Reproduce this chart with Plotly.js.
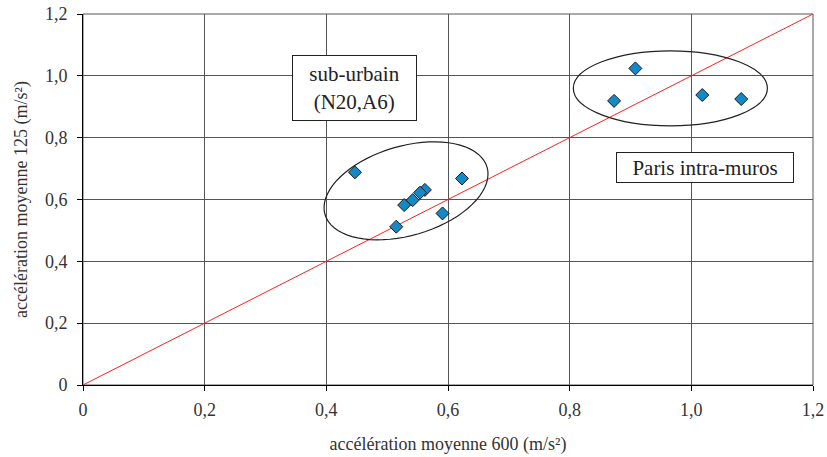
<!DOCTYPE html>
<html>
<head>
<meta charset="utf-8">
<script src="https://cdn.plot.ly/plotly-3.0.1.min.js"></script>
<style>html,body{margin:0;padding:0;background:#fff;}#chart{width:827px;height:457px;}</style>
</head>
<body>
<div id="chart"></div>
<script>
// accélération moyenne 600 (x) and 125 (y), m/s²
var groupNames = ["sub-urbain", "sub-urbain", "sub-urbain", "sub-urbain", "sub-urbain", "sub-urbain", "sub-urbain", "sub-urbain",
                  "Paris", "Paris", "Paris", "Paris"];
var acc600 = [0.447, 0.623, 0.562, 0.554, 0.542, 0.528, 0.591, 0.515, 0.908, 0.873, 1.018, 1.082];
var acc125 = [0.688, 0.668, 0.631, 0.622, 0.598, 0.582, 0.555, 0.512, 1.024, 0.919, 0.938, 0.925];
var diagX = [0, 1.2];
var diagY = [0, 1.2];
var tickVals = [0, 0.2, 0.4, 0.6, 0.8, 1.0, 1.2];
var tickText = ["0", "0,2", "0,4", "0,6", "0,8", "1,0", "1,2"];
var xTitle = "accélération moyenne 600 (m/s²)";
var yTitle = "accélération moyenne 125 (m/s²)";
var labelSub = "sub-urbain<br>(N20,A6)";
var labelParis = "Paris intra-muros";

var FONT = "Liberation Serif, Times New Roman, serif";
var pxX = 730 / 1.2, pxY = 371 / 1.2;

// rotated ellipse (sub-urbain group) built as a path
function ellipsePath(cx, cy, aPx, bPx, angDeg) {
  var ang = angDeg * Math.PI / 180, pts = [];
  for (var i = 0; i <= 72; i++) {
    var t = i / 72 * 2 * Math.PI;
    var dx = aPx * Math.cos(t) * Math.cos(ang) - bPx * Math.sin(t) * Math.sin(ang);
    var dy = aPx * Math.cos(t) * Math.sin(ang) + bPx * Math.sin(t) * Math.cos(ang);
    pts.push((i ? "L" : "M") + (cx + dx / pxX).toFixed(4) + "," + (cy + dy / pxY).toFixed(4));
  }
  return pts.join(" ") + " Z";
}

var traces = [
  {x: diagX, y: diagY, mode: "lines", type: "scatter", line: {color: "#ff2020", width: 1}, hoverinfo: "skip", showlegend: false},
  {x: acc600, y: acc125, text: groupNames, mode: "markers", type: "scatter", showlegend: false,
   marker: {symbol: "diamond", size: 10, color: "#1389c8", line: {color: "#1a1a1a", width: 1}}}
];

var axisCommon = {
  range: [0, 1.2], tickvals: tickVals, ticktext: tickText,
  showgrid: true, gridcolor: "#555", gridwidth: 1, zeroline: false,
  showline: true, linecolor: "#000", linewidth: 1,
  ticks: "outside", ticklen: 5, tickcolor: "#000",
  tickfont: {family: FONT, size: 18, color: "#333"}
};

var layout = {
  width: 827, height: 457,
  margin: {l: 83, r: 14, t: 14, b: 72},
  paper_bgcolor: "#fff", plot_bgcolor: "#fff",
  xaxis: Object.assign({}, axisCommon, {ticklabelstandoff: 3,
    title: {text: xTitle, font: {family: FONT, size: 18, color: "#333"}, standoff: 18}}),
  yaxis: Object.assign({}, axisCommon, {ticklabelstandoff: 6,
    title: {text: yTitle, font: {family: FONT, size: 18, color: "#333"}, standoff: 12}}),
  shapes: [
    {type: "rect", xref: "paper", yref: "paper", x0: 0, x1: 1, y0: 0, y1: 1, line: {color: "#555", width: 1}, layer: "below"},
    {type: "path", xref: "x", yref: "y", path: ellipsePath(0.531, 0.628, 84.4, 44.7, 16.3), line: {color: "#222", width: 1.2}},
    {type: "circle", xref: "x", yref: "y", x0: 0.806, x1: 1.125, y0: 0.838, y1: 1.081, line: {color: "#222", width: 1.2}}
  ],
  annotations: [
    {x: 0.446, y: 0.961, xref: "x", yref: "y", text: labelSub, showarrow: false, width: 123, height: 64,
     bgcolor: "#fff", bordercolor: "#222", borderwidth: 1, borderpad: 0,
     font: {family: FONT, size: 21, color: "#222"}},
    {x: 1.0225, y: 0.703, xref: "x", yref: "y", text: labelParis, showarrow: false, width: 176, height: 29,
     bgcolor: "#fff", bordercolor: "#222", borderwidth: 1, borderpad: 0,
     font: {family: FONT, size: 21, color: "#222"}}
  ]
};

Plotly.newPlot("chart", traces, layout, {staticPlot: true, displayModeBar: false});
</script>
</body>
</html>
